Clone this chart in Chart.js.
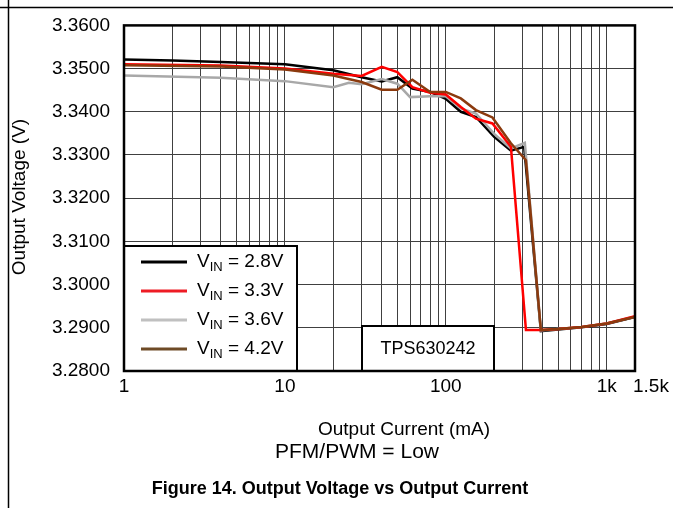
<!DOCTYPE html>
<html lang="en">
<head>
<meta charset="UTF-8" />
<title>Output Voltage vs Output Current</title>
<script src="https://cdn.jsdelivr.net/npm/chart.js"></script>
<style>
  body { margin: 0; background: #fff; }
  #wrap { width: 673px; height: 508px; }
</style>
</head>
<body>
<div id="wrap"><canvas id="chart" width="673" height="508"></canvas></div>
<script>
  // x axis (mA, log) ticks and grid
  const xTickValues = [1, 10, 100, 1000, 1500];
  const xTickLabels = ['1', '10', '100', '1k', '1.5k'];
  const xGridValues = [1, 2, 3, 4, 5, 6, 7, 8, 9, 10, 20, 30, 40, 50, 60, 70, 80, 90,
    100, 200, 300, 400, 500, 600, 700, 800, 900, 1000, 1500];

  // VIN = 2.8V
  const vin28Current = [1, 2, 4, 10, 20, 30, 40, 50, 62, 80, 100, 124, 154, 200, 254, 307, 390, 500, 700, 1000, 1500];
  const vin28Voltage = [3.3521, 3.3519, 3.3515, 3.3510, 3.3496, 3.3480, 3.3470, 3.3480, 3.3454, 3.3446, 3.3430,
    3.3400, 3.3388, 3.3342, 3.3310, 3.3319, 3.2892, 3.2896, 3.2901, 3.2909, 3.2925];

  // VIN = 3.3V
  const vin33Current = [1, 4, 10, 20, 30, 40, 50, 62, 80, 100, 124, 154, 195, 254, 315, 390, 500, 700, 1000, 1500];
  const vin33Voltage = [3.3510, 3.3507, 3.3500, 3.3488, 3.3483, 3.3504, 3.3492, 3.3457, 3.3444, 3.3440, 3.3411,
    3.3384, 3.3373, 3.3319, 3.2895, 3.2895, 3.2897, 3.2902, 3.2910, 3.2927];

  // VIN = 3.6V
  const vin36Current = [1, 4, 10, 20, 25, 30, 40, 50, 60, 80, 100, 124, 154, 200, 254, 310, 390, 500, 700, 1000, 1500];
  const vin36Voltage = [3.3484, 3.3479, 3.3471, 3.3457, 3.3467, 3.3464, 3.3476, 3.3465, 3.3434, 3.3436, 3.3436,
    3.3408, 3.3396, 3.3349, 3.3315, 3.3328, 3.2894, 3.2897, 3.2902, 3.2910, 3.2926];

  // VIN = 4.2V
  const vin42Current = [1, 4, 10, 20, 30, 40, 50, 62, 80, 100, 124, 154, 195, 254, 315, 390, 500, 700, 1000, 1500];
  const vin42Voltage = [3.3508, 3.3505, 3.3498, 3.3484, 3.3469, 3.3451, 3.3451, 3.3474, 3.3446, 3.3446, 3.3431,
    3.3404, 3.3387, 3.3327, 3.3288, 3.2895, 3.2897, 3.2902, 3.2910, 3.2925];

  const legendLabels = ['2.8V', '3.3V', '3.6V', '4.2V'];
  const legendColors = ['#000000', '#ee1c25', '#c0c0c0', '#6e4b26'];

  const FONT = '"Liberation Sans", Arial, sans-serif';

  function pts(xs, ys) {
    return xs.map((x, i) => ({ x: x, y: ys[i] }));
  }

  const decorations = {
    id: 'decorations',
    afterDatasetsDraw(chart) {
      const ctx = chart.ctx;
      const a = chart.chartArea;
      const xs = chart.scales.x;
      ctx.save();

      // legend box
      ctx.fillStyle = '#fff';
      ctx.strokeStyle = '#000';
      ctx.lineWidth = 2;
      ctx.fillRect(a.left, 246, 297 - a.left, a.bottom - 246);
      ctx.strokeRect(a.left, 246, 297 - a.left, a.bottom - 246);
      legendLabels.forEach((lab, i) => {
        const yy = 262 + i * 29;
        ctx.strokeStyle = legendColors[i];
        ctx.lineWidth = 3;
        ctx.beginPath();
        ctx.moveTo(141, yy);
        ctx.lineTo(187, yy);
        ctx.stroke();
        ctx.fillStyle = '#000';
        ctx.textBaseline = 'middle';
        ctx.textAlign = 'left';
        let tx = 197;
        ctx.font = '19px ' + FONT;
        ctx.fillText('V', tx, yy);
        tx += ctx.measureText('V').width;
        ctx.font = '13px ' + FONT;
        ctx.fillText('IN', tx, yy + 5);
        tx += ctx.measureText('IN').width;
        ctx.font = '19px ' + FONT;
        ctx.fillText(' = ' + lab, tx, yy);
      });

      // part number box
      ctx.fillStyle = '#fff';
      ctx.strokeStyle = '#000';
      ctx.lineWidth = 2;
      ctx.fillRect(362, 326, 132, a.bottom - 326);
      ctx.strokeRect(362, 326, 132, a.bottom - 326);
      ctx.fillStyle = '#000';
      ctx.font = '18px ' + FONT;
      ctx.textAlign = 'center';
      ctx.fillText('TPS630242', 428, 349);

      // plot border
      ctx.lineWidth = 2.5;
      ctx.strokeRect(a.left, a.top, a.right - a.left, a.bottom - a.top);

      // x tick labels
      ctx.font = '19px ' + FONT;
      ctx.textBaseline = 'middle';
      xTickValues.forEach((v, i) => {
        const px = xs.getPixelForValue(v);
        if (i === xTickValues.length - 1) {
          ctx.textAlign = 'left';
          ctx.fillText(xTickLabels[i], px - 2, 387);
        } else {
          ctx.textAlign = 'center';
          ctx.fillText(xTickLabels[i], px, 387);
        }
      });

      // axis titles and captions
      ctx.textAlign = 'center';
      ctx.fillText('Output Current (mA)', 404, 430);
      ctx.font = '21px ' + FONT;
      ctx.fillText('PFM/PWM = Low', 357, 452);
      ctx.font = 'bold 18px ' + FONT;
      ctx.fillText('Figure 14. Output Voltage vs Output Current', 340, 489);

      ctx.save();
      ctx.translate(20, 197);
      ctx.rotate(-Math.PI / 2);
      ctx.font = '19px ' + FONT;
      ctx.fillText('Output Voltage (V)', 0, 0);
      ctx.restore();

      // page frame lines
      ctx.strokeStyle = '#000';
      ctx.lineWidth = 1.5;
      ctx.beginPath();
      ctx.moveTo(0, 7.5);
      ctx.lineTo(673, 7.5);
      ctx.moveTo(8.5, 0);
      ctx.lineTo(8.5, 508);
      ctx.stroke();

      ctx.restore();
    }
  };

  new Chart(document.getElementById('chart').getContext('2d'), {
    type: 'line',
    data: {
      datasets: [
        { label: 'VIN = 4.2V', data: pts(vin42Current, vin42Voltage), borderColor: '#8b3a0e' },
        { label: 'VIN = 3.3V', data: pts(vin33Current, vin33Voltage), borderColor: '#ff0000' },
        { label: 'VIN = 3.6V', data: pts(vin36Current, vin36Voltage), borderColor: '#a8a8a8' },
        { label: 'VIN = 2.8V', data: pts(vin28Current, vin28Voltage), borderColor: '#000000' }
      ]
    },
    options: {
      responsive: false,
      animation: false,
      events: [],
      layout: { padding: { left: 0, top: 25, right: 38, bottom: 0 } },
      elements: {
        point: { radius: 0 },
        line: { borderWidth: 2.5, tension: 0, fill: false }
      },
      plugins: { legend: { display: false }, tooltip: { enabled: false } },
      scales: {
        x: {
          type: 'logarithmic',
          min: 1,
          max: 1500,
          afterBuildTicks(scale) {
            scale.ticks = xGridValues.map(v => ({ value: v }));
          },
          afterFit(scale) { scale.height = 137; },
          ticks: { display: false },
          grid: { color: '#404040', lineWidth: 1, drawTicks: false },
          border: { display: false }
        },
        y: {
          min: 3.28,
          max: 3.36,
          afterFit(scale) { scale.width = 124; },
          ticks: {
            stepSize: 0.01,
            color: '#000',
            padding: 14,
            font: { family: FONT, size: 19 },
            callback: v => Number(v).toFixed(4)
          },
          grid: { color: '#404040', lineWidth: 1, drawTicks: false },
          border: { display: false }
        }
      }
    },
    plugins: [decorations]
  });
</script>
</body>
</html>
